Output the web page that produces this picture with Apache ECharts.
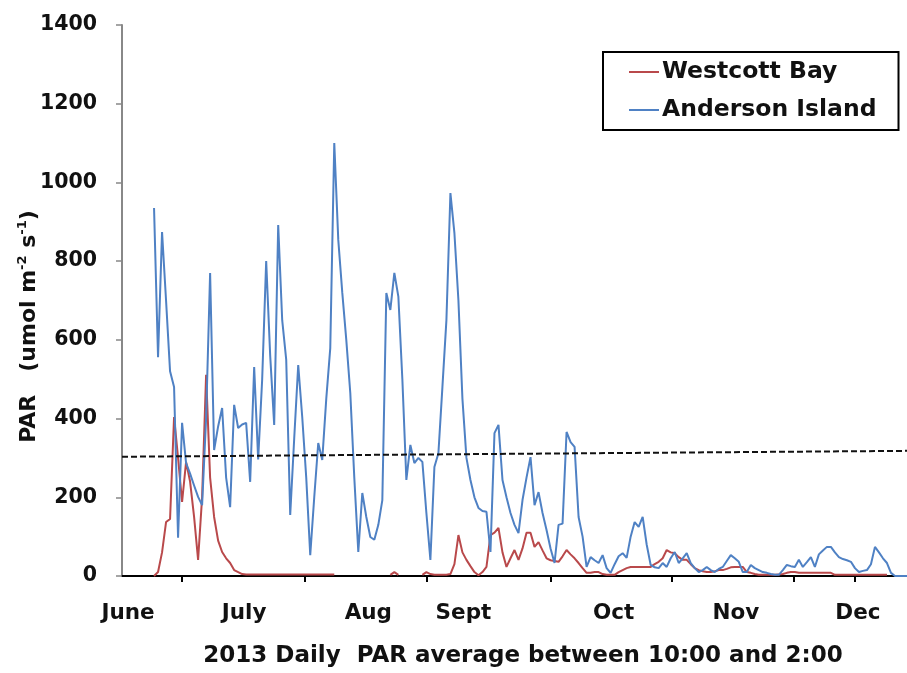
<!DOCTYPE html>
<html><head><meta charset="utf-8">
<script src="https://cdn.jsdelivr.net/npm/echarts@6/dist/echarts.min.js"></script>
<style>html,body{margin:0;padding:0;background:#fff}#c{width:907px;height:673px}</style>
</head><body><div id="c"></div><script>
// Day index of the first daily value (x axis is in days)
const firstDay = 8;
const lastDay = 196;

// Anderson Island daily PAR (day 8 .. day 196)
const andersonIsland = [
  935, 556, 874, 700, 520, 480, 97, 389, 287, 260,
  230, 201, 180, 400, 770, 320, 380, 427, 250, 175,
  435, 376, 385, 389, 239, 531, 296, 500, 800, 560,
  384, 892, 650, 550, 155, 350, 536, 404, 250, 53,
  200, 338, 295, 450, 579, 1100, 854, 720, 600, 465,
  250, 61, 211, 150, 99, 92, 130, 193, 719, 676,
  770, 710, 500, 244, 333, 287, 300, 290, 160, 41,
  277, 312, 480, 650, 973, 871, 700, 450, 300, 244,
  200, 173, 165, 163, 61, 363, 384, 244, 200, 160,
  130, 109, 193, 250, 302, 180, 213, 160, 117, 70,
  33, 130, 133, 366, 340, 328, 150, 100, 23, 48,
  40, 33, 53, 20, 8, 30, 50, 58, 46, 100,
  137, 125, 150, 80, 28, 22, 20, 33, 23, 45,
  61, 33, 45, 58, 33, 20, 10, 15, 23, 15,
  10, 18, 23, 38, 53, 45, 36, 10, 10, 28,
  20, 15, 10, 8, 5, 3, 3, 15, 28, 25,
  23, 41, 23, 35, 48, 23, 55, 65, 74, 74,
  60, 48, 43, 40, 36, 20, 10, 13, 15, 30,
  74, 60, 45, 33, 8, 0, 0, 0, 0
];

// Westcott Bay daily PAR (day 8 .. day 196), null = no data
const westcottBay = [
  0, 10, 60, 137, 145, 404, 300, 188, 290, 240,
  150, 41, 200, 511, 250, 150, 90, 61, 45, 33,
  15, 10, 5, 4, 4, 4, 4, 4, 4, 4,
  4, 4, 4, 4, 4, 4, 4, 4, 4, 4,
  4, 4, 4, 4, 4, 4, null, null, null, null,
  null, null, null, null, null, null, null, null, null, 3,
  10, 3, null, null, null, null, null, 3, 10, 5,
  3, 3, 3, 3, 5, 30, 104, 60, 41, 25,
  10, 2, 10, 23, 104, 110, 122, 60, 23, 45,
  66, 41, 70, 110, 110, 74, 86, 65, 45, 40,
  38, 36, 50, 66, 55, 45, 33, 20, 8, 8,
  10, 10, 5, 3, 3, 3, 10, 15, 20, 23,
  23, 23, 23, 23, 23, 30, 36, 45, 66, 60,
  58, 48, 41, 41, 30, 20, 15, 12, 10, 10,
  12, 15, 15, 18, 22, 23, 23, 23, 10, 8,
  5, 3, 3, 3, 3, 3, 4, 5, 8, 10,
  10, 8, 8, 8, 8, 8, 8, 8, 8, 8,
  3, 3, 3, 3, 3, 3, 3, 3, 3, 3,
  3, 3, 3, 3, null, null, null, null, null
];

// Dashed reference line (start/end)
const thresholdDays = [0, 196];
const thresholdValues = [303, 318];

// Month labels and tick marks on the day axis
const monthNames = ['June', 'July', 'Aug', 'Sept', 'Oct', 'Nov', 'Dec'];
const monthLabelDays = [1.5, 30.5, 61.5, 85.25, 122.75, 153.25, 183.75];
const tickDays = [15, 45.75, 76, 107, 137.25, 167.75, 183];

const FONT = '"DejaVu Sans"';
const toPairs = arr => arr.map((v, i) => [firstDay + i, v]);

const chart = echarts.init(document.getElementById('c'));
chart.setOption({
  animation: false,
  backgroundColor: '#fff',
  textStyle: { fontFamily: FONT },
  grid: { left: 122, right: 0, top: 25, bottom: 97, containLabel: false, outerBoundsMode: 'none' },
  legend: {
    data: ['Westcott Bay', 'Anderson Island'],
    orient: 'vertical',
    left: 603, top: 52,
    borderColor: '#000', borderWidth: 2,
    padding: [8, 22, 8, 26],
    itemGap: 14,
    itemWidth: 30, itemHeight: 2, icon: 'rect',
    textStyle: { fontFamily: FONT, fontSize: 23.5, fontWeight: 'bold', color: '#111', padding: [0, 0, 0, -2] }
  },
  xAxis: {
    type: 'value', min: 0, max: lastDay,
    splitLine: { show: false },
    axisLine: { show: true, lineStyle: { color: '#000', width: 2 } },
    axisTick: { show: true, customValues: tickDays, length: 6, lineStyle: { color: '#000', width: 2 } },
    axisLabel: {
      customValues: monthLabelDays,
      formatter: v => monthNames[monthLabelDays.indexOf(v)] || '',
      margin: 26, fontFamily: FONT, fontSize: 21.5, fontWeight: 'bold', color: '#111'
    },
    name: '2013 Daily  PAR average between 10:00 and 2:00',
    nameLocation: 'middle', nameGap: 69, nameMoveOverlap: false,
    nameTextStyle: { fontFamily: FONT, fontSize: 23, fontWeight: 'bold', color: '#111', padding: [0, 0, 0, 17] }
  },
  yAxis: {
    type: 'value', min: 0, max: 1400, interval: 200,
    splitLine: { show: false },
    axisLine: { show: true, lineStyle: { color: '#888', width: 2 } },
    axisTick: { show: true, length: 6, lineStyle: { color: '#888', width: 1.5 } },
    axisLabel: { margin: 25, fontFamily: FONT, fontSize: 20.5, fontWeight: 'bold', color: '#111', formatter: v => String(v) },
    name: 'PAR   (umol m{sup|-2} s{sup|-1})',
    nameLocation: 'middle', nameGap: 80, nameRotate: 90, nameMoveOverlap: false,
    nameTextStyle: {
      fontFamily: FONT, fontSize: 22, fontWeight: 'bold', color: '#111', lineHeight: 26,
      padding: [0, 52, 0, 0],
      rich: { sup: { fontFamily: FONT, fontSize: 13, fontWeight: 'bold', color: '#111', verticalAlign: 'top', lineHeight: 26 } }
    }
  },
  series: [
    {
      name: 'Westcott Bay', type: 'line', data: toPairs(westcottBay),
      showSymbol: false, connectNulls: false,
      itemStyle: { color: '#b9494b' },
      lineStyle: { color: '#b9494b', width: 2 }
    },
    {
      name: 'Anderson Island', type: 'line', data: toPairs(andersonIsland),
      showSymbol: false,
      itemStyle: { color: '#4f81c4' },
      lineStyle: { color: '#4f81c4', width: 2 }
    },
    {
      name: 'threshold', type: 'line',
      data: thresholdDays.map((d, i) => [d, thresholdValues[i]]),
      showSymbol: false, silent: true,
      lineStyle: { color: '#111', width: 2, type: [6, 3] }
    }
  ]
});
</script></body></html>
